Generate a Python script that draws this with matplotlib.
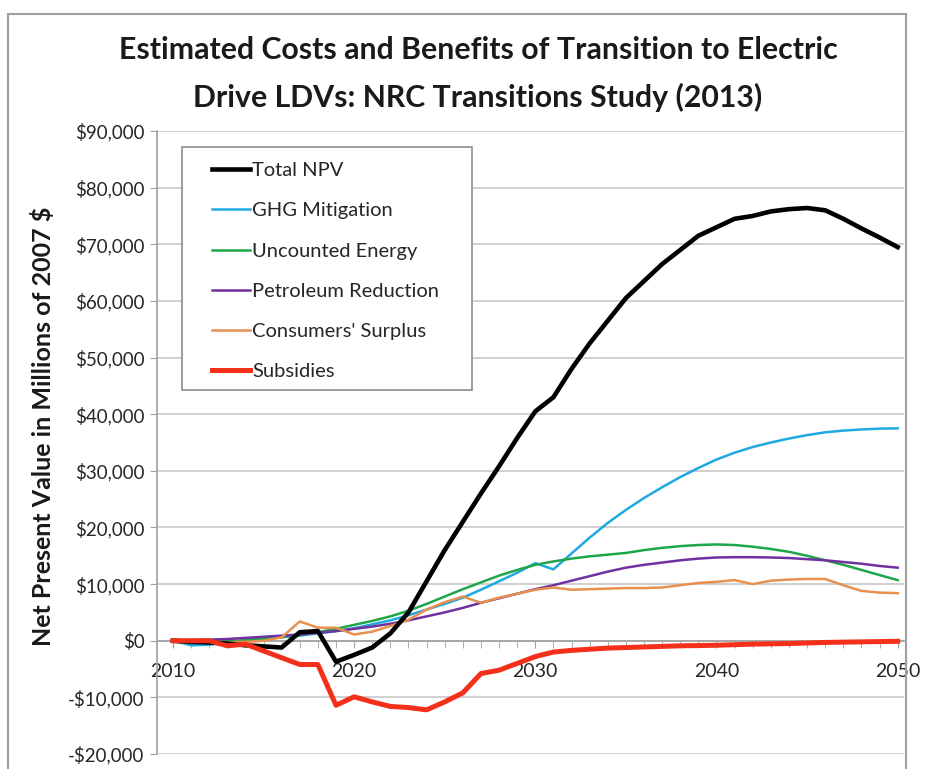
import matplotlib.pyplot as plt
from matplotlib.lines import Line2D
from matplotlib.patches import Rectangle
from matplotlib.ticker import FuncFormatter, MultipleLocator

years = list(range(2010, 2051))

total_npv = [0, -200, -300, -500, -800, -1000, -1200, 1500, 1700, -3700,
             -2500, -1200, 1300, 5000, 10500, 16000, 21000, 26000, 30800, 35800,
             40500, 43000, 48000, 52500, 56500, 60500, 63500, 66500, 69000, 71500,
             73000, 74500, 75000, 75800, 76200, 76400, 76000, 74500, 72800, 71200,
             69500]
ghg = [0, -800, -700, -300, 0, 300, 600, 900, 1300, 1700,
       2200, 2900, 3600, 4500, 5500, 6500, 7600, 9000, 10500, 12000,
       13700, 12600, 15400, 18200, 20800, 23100, 25200, 27100, 28900, 30500,
       32000, 33200, 34200, 35000, 35700, 36300, 36800, 37100, 37300, 37450,
       37500]
uncounted = [0, -300, -300, -100, 100, 400, 700, 1000, 1500, 2100,
             2800, 3500, 4300, 5300, 6500, 7800, 9100, 10300, 11500, 12500,
             13400, 14000, 14500, 14900, 15200, 15500, 16000, 16400, 16700, 16900,
             17000, 16900, 16600, 16200, 15700, 15000, 14200, 13400, 12500, 11600,
             10700]
petroleum = [0, 100, 200, 300, 500, 700, 900, 1100, 1400, 1700,
             2100, 2500, 3000, 3600, 4300, 5000, 5800, 6700, 7500, 8300,
             9100, 9800, 10600, 11400, 12200, 12900, 13400, 13800, 14200, 14500,
             14700, 14750, 14750, 14700, 14600, 14400, 14200, 13900, 13600, 13200,
             12900]
consumers = [0, -200, -300, -300, -200, 0, 600, 3400, 2300, 2300,
             1100, 1600, 2600, 3700, 5500, 6800, 7800, 6700, 7600, 8300,
             9000, 9400, 9000, 9100, 9200, 9300, 9300, 9400, 9800, 10200,
             10400, 10700, 10000, 10600, 10800, 10900, 10900, 9800, 8800, 8500,
             8400]
subsidies = [0, 0, 0, -900, -600, -1800, -3000, -4200, -4200, -11400,
             -9900, -10800, -11600, -11800, -12200, -10800, -9200, -5800, -5200, -4000,
             -2800, -2000, -1700, -1500, -1300, -1200, -1100, -1000, -900, -850,
             -800, -700, -600, -550, -500, -400, -300, -250, -200, -150,
             -100]

FONT = 'Lato'

fig = plt.figure(figsize=(9.52, 7.69), dpi=100)
W, H = 952, 769
L, R, T, B = 157, 904, 131, 754
ax = fig.add_axes([L / W, 1 - B / H, (R - L) / W, (B - T) / H])

# chart border
for xs, ys in [([8 / W, 8 / W], [0, 1 - 14 / H]),
               ([8 / W, 906 / W], [1 - 14 / H, 1 - 14 / H]),
               ([906 / W, 906 / W], [0, 1 - 14 / H])]:
    fig.add_artist(Line2D(xs, ys, color='#a0a0a0', lw=1.5))

ax.set_ylim(-20000, 90000)
ax.set_xlim(2009.12, 2050.35)
ax.yaxis.set_major_locator(MultipleLocator(10000))
ax.yaxis.set_major_formatter(FuncFormatter(
    lambda v, p: ('-$' if v < 0 else '$') + f'{abs(int(v)):,}'))
ax.grid(axis='y', color='#c8c8c8', lw=1.2)
ax.set_axisbelow(True)

for s in ['top', 'right']:
    ax.spines[s].set_visible(False)
ax.spines['left'].set_color('#a0a0a0')
ax.spines['left'].set_linewidth(1.2)
ax.spines['bottom'].set_position(('data', 0))
ax.spines['bottom'].set_color('#a0a0a0')
ax.spines['bottom'].set_linewidth(1.2)

ax.xaxis.set_major_locator(MultipleLocator(10))
ax.xaxis.set_minor_locator(MultipleLocator(1))
ax.tick_params(axis='x', which='both', direction='out', length=5, color='#a0a0a0',
               labelsize=14, labelcolor='#262626', pad=11)
ax.tick_params(axis='y', direction='out', length=5, color='#a0a0a0',
               labelsize=13.5, labelcolor='#262626', pad=4)
for lab in ax.get_xticklabels() + ax.get_yticklabels():
    lab.set_fontfamily(FONT)

ax.plot(years, total_npv, color='#000000', lw=3.3, label='Total NPV', zorder=5)
ax.plot(years, ghg, color='#1fa9e1', lw=1.8, label='GHG Mitigation', zorder=4)
ax.plot(years, uncounted, color='#1fa64a', lw=1.8, label='Uncounted Energy', zorder=4)
ax.plot(years, petroleum, color='#7030a0', lw=1.8, label='Petroleum Reduction', zorder=4)
ax.plot(years, consumers, color='#e8904f', lw=1.8, label="Consumers' Surplus", zorder=4)
ax.plot(years, subsidies, color='#f4301a', lw=3.6, label='Subsidies', zorder=5)

# legend box drawn separately (wider left padding than matplotlib allows)
ax.add_patch(Rectangle(((182 - L) / (R - L), 1 - (390 - T) / (B - T)),
                       (472 - 182) / (R - L), (390 - 147) / (B - T),
                       transform=ax.transAxes, facecolor='white', edgecolor='#8c8c8c',
                       lw=1.2, zorder=6))
leg = ax.legend(loc='upper left', bbox_to_anchor=((212 - L) / (R - L), 1 - (162 - T) / (B - T)),
                frameon=False, prop={'family': FONT, 'size': 14.5}, handlelength=1.9,
                handletextpad=0.1, labelspacing=1.15, borderpad=0, borderaxespad=0)
leg.set_zorder(7)
for t in leg.get_texts():
    t.set_color('#262626')

fig.text(478 / W, 1 - 50 / H, 'Estimated Costs and Benefits of Transition to Electric',
         ha='center', va='center', fontsize=21.8, fontweight='bold', family=FONT, color='#1a1a1a')
fig.text(478 / W, 1 - 97 / H, 'Drive LDVs: NRC Transitions Study (2013)',
         ha='center', va='center', fontsize=21.8, fontweight='bold', family=FONT, color='#1a1a1a')
fig.text(43 / W, 1 - 426 / H, 'Net Present Value in Millions of 2007 $', rotation=90,
         ha='center', va='center', fontsize=18, fontweight='bold', family=FONT, color='#1a1a1a')

fig.savefig('out.png', dpi=100)
